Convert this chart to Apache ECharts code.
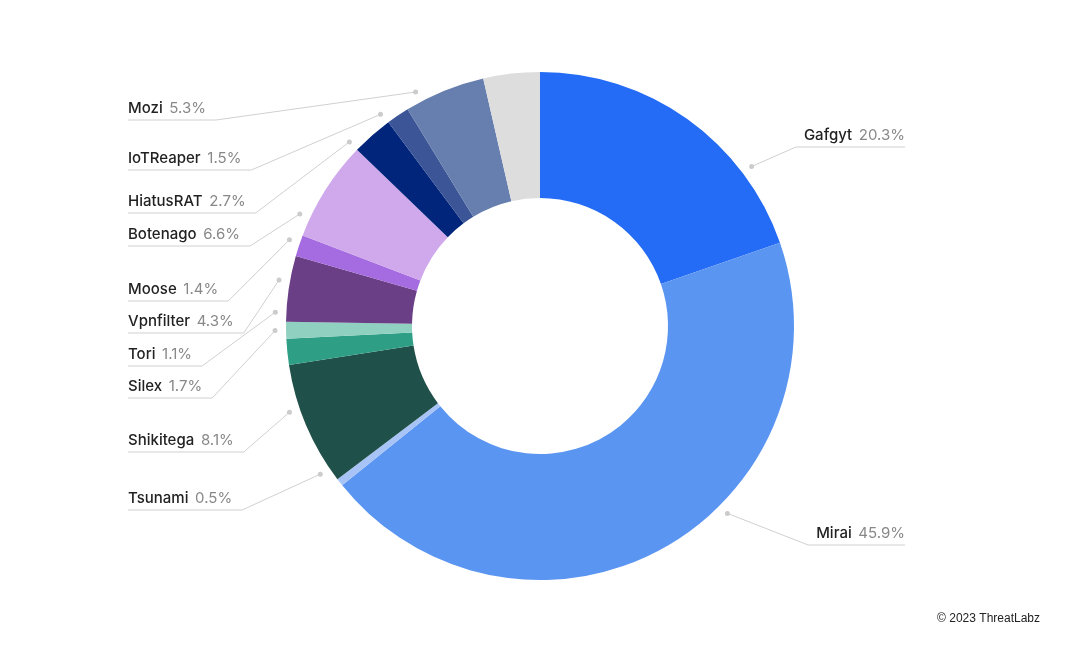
<!DOCTYPE html>
<html><head><meta charset="utf-8">
<script src="https://cdn.jsdelivr.net/npm/echarts@6/dist/echarts.min.js"></script>
<style>html,body{margin:0;background:#fff}#c{width:1080px;height:653px}</style>
</head><body><div id="c"></div>
<script>
const names = ['Gafgyt','Mirai','Tsunami','Shikitega','Silex','Tori','Vpnfilter','Moose','Botenago','HiatusRAT','IoTReaper','Mozi','Other'];
const values = [20.3,45.9,0.5,8.1,1.7,1.1,4.3,1.4,6.6,2.7,1.5,5.3,3.7];
const colors = ['#246BF5','#5B95F2','#A8C4F7','#1F5049','#2E9E85','#8FD0C0','#6A3F86','#A56BE0','#D0A8EC','#00257A','#3B5597','#677FAE','#DDDDDD'];
// label layout (style): label text rows and leader-line anchor angles (deg from top, clockwise)
const labelY = [135,533,498,440,386,354,321,289,234,201,158,108,null];
const anchorDeg = [53,135,-124,-109,-91,-87,-80,-71,-65,-46,-37,-28,null];
const CX=540, CY=326, R=254, RD=265;
const pt = d => [CX+Math.sin(d*Math.PI/180)*RD, CY-Math.cos(d*Math.PI/180)*RD];
const chart = echarts.init(document.getElementById('c'));
chart.setOption({
  animation:false,
  graphic:[{type:'text',right:40,top:613,style:{text:'© 2023 ThreatLabz',font:'12px "Liberation Sans", Arial',fill:'#222'}}]
    .concat(anchorDeg.filter(d=>d!=null).map(d=>{const p=pt(d);return {type:'circle',shape:{cx:p[0],cy:p[1],r:2.5},style:{fill:'#ccc'},z:10};})),
  series:[{
    type:'pie', center:[CX,CY], radius:[128,R], startAngle:90, clockwise:true,
    data: names.map((n,i)=>({name:n,value:values[i],itemStyle:{color:colors[i]},
      label:{show:n!=='Other'}, labelLine:{show:n!=='Other'}})),
    label:{
      formatter: p=>'{n|'+p.name+'}  {v|'+p.value.toFixed(1)+'%}',
      rich:{n:{fontFamily:'Inter, Lato, sans-serif',fontSize:15,fontWeight:500,color:'#222'},
            v:{fontFamily:'Inter, Lato, sans-serif',fontSize:15,color:'#888'}}
    },
    labelLine:{length:18,length2:20,lineStyle:{color:'#d0d0d0',width:1}},
    labelLayout: function(p){
      const i=p.dataIndex, y=labelY[i];
      if(y==null) return {};
      const w=p.labelRect.width;
      const s=pt(anchorDeg[i]);
      const uy=y+12;
      if(s[0]>CX){
        const x0=905-w-8;
        return {x:905,y:y,align:'right',verticalAlign:'middle',
          labelLinePoints:[s,[x0,uy],[905,uy]]};
      } else {
        const x1=128+w+10;
        return {x:128,y:y,align:'left',verticalAlign:'middle',
          labelLinePoints:[s,[x1,uy],[128,uy]]};
      }
    },
    emphasis:{disabled:true}
  }]
});
</script></body></html>
